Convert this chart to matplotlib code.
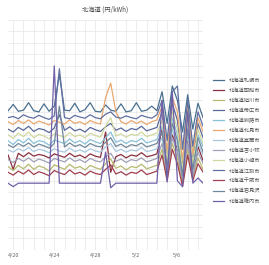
import matplotlib
matplotlib.use("Agg")
import matplotlib.pyplot as plt
import matplotlib.dates as mdates
import pandas as pd

plt.rcParams["font.family"] = ["Noto Sans CJK JP", "DejaVu Sans"]

TITLE = "北海道 (円/kWh)"
TIMES = pd.date_range("2024-04-19 12:00", periods=39, freq="12h")

LABELS = [
    "北海道札幌市", "北海道函館市", "北海道旭川市", "北海道帯広市",
    "北海道釧路市", "北海道北見市", "北海道室蘭市", "北海道苫小牧",
    "北海道小樽市", "北海道江別市", "北海道千歳市", "北海道岩見沢",
    "北海道稚内市",
]
COLORS = [
    "#4a7090", "#8a3040", "#b8b870", "#5a6898", "#88c0d8", "#e8a870",
    "#a8c8e0", "#a0a0b8", "#d0d8a0", "#6070a0", "#a04050", "#70889a",
    "#7060a8",
]

s1 = [24.2, 25.3, 24.1, 24.3, 25.6, 24.2, 24.0, 25.4, 24.1, 25.0, 30.5, 24.3, 24.2,
      25.5, 24.0, 24.4, 25.6, 24.1, 24.0, 25.2, 24.3, 24.1, 25.4, 24.0, 24.2, 25.6,
      24.1, 24.3, 25.0, 24.2, 27.5, 22.0, 28.5, 26.0, 20.5, 27.0, 21.0, 25.5, 23.0]
s2 = [16.5, 14.0, 16.8, 16.2, 16.9, 16.3, 16.6, 16.4, 16.0, 16.7, 16.4, 16.1, 16.8,
      16.2, 16.5, 16.0, 16.7, 16.3, 16.1, 20.5, 13.5, 16.2, 16.6, 16.0, 16.5, 16.3,
      16.9, 16.2, 16.4, 16.7, 21.0, 13.0, 20.0, 17.5, 12.0, 19.0, 13.0, 18.0, 15.5]
s3 = [14.5, 13.8, 14.7, 14.1, 14.9, 14.0, 14.6, 14.3, 13.7, 14.8, 14.4, 14.0, 14.9,
      14.2, 14.5, 13.9, 14.7, 14.3, 14.0, 15.0, 15.8, 14.2, 14.6, 13.9, 14.5, 14.3,
      14.9, 14.1, 14.4, 14.7, 17.5, 12.5, 18.5, 16.0, 11.5, 17.5, 12.5, 16.0, 14.0]
s4 = [21.0, 20.5, 21.3, 20.8, 21.5, 20.6, 21.1, 20.9, 20.4, 21.2, 23.5, 20.8, 21.4,
      20.7, 21.0, 20.5, 21.3, 20.9, 20.6, 21.4, 22.0, 20.8, 21.2, 20.6, 21.1, 20.9,
      21.5, 20.7, 21.0, 21.3, 24.0, 16.0, 25.5, 22.5, 14.5, 24.5, 15.5, 22.0, 19.5]
s5 = [19.0, 18.3, 19.2, 18.6, 19.4, 18.5, 19.0, 18.8, 18.2, 19.1, 18.8, 18.5, 19.3,
      18.6, 19.0, 18.4, 19.2, 18.8, 18.5, 19.5, 20.5, 18.7, 19.1, 18.5, 19.0, 18.8,
      19.4, 18.6, 18.9, 19.2, 21.5, 15.0, 23.0, 20.0, 13.5, 22.0, 14.5, 20.0, 18.0]
s6 = [22.3, 21.8, 22.5, 22.0, 22.6, 21.9, 22.4, 22.1, 21.7, 22.5, 22.2, 21.9, 22.6,
      22.0, 22.3, 21.8, 22.5, 22.1, 21.9, 26.5, 29.0, 24.0, 22.3, 21.9, 22.5, 22.0,
      22.4, 21.8, 22.3, 22.6, 25.0, 17.0, 26.5, 24.0, 15.5, 25.5, 16.5, 23.0, 20.5]
s7 = [17.4, 17.0, 17.6, 17.2, 17.8, 17.1, 17.5, 17.3, 16.9, 17.6, 17.2, 17.0, 17.7,
      17.1, 17.4, 17.0, 17.6, 17.2, 17.0, 17.9, 18.5, 17.1, 17.5, 17.0, 17.4, 17.2,
      17.8, 17.1, 17.3, 17.6, 19.5, 14.0, 21.0, 18.0, 12.5, 20.0, 13.5, 18.5, 16.5]
s8 = [15.7, 15.2, 15.9, 15.4, 16.0, 15.3, 15.8, 15.5, 15.1, 15.9, 15.6, 15.3, 16.0,
      15.4, 15.7, 15.2, 15.9, 15.5, 15.3, 16.2, 16.8, 15.4, 15.8, 15.2, 15.7, 15.5,
      16.0, 15.3, 15.6, 15.9, 18.5, 13.5, 19.5, 17.0, 12.5, 18.5, 13.0, 17.0, 15.0]
s9 = [20.0, 19.4, 20.3, 19.7, 20.5, 19.5, 20.1, 19.8, 19.3, 20.2, 19.9, 19.6, 20.4,
      19.7, 20.0, 19.5, 20.3, 19.9, 19.6, 21.5, 23.0, 19.8, 20.2, 19.6, 20.1, 19.9,
      20.5, 19.7, 20.0, 20.3, 22.5, 15.5, 24.0, 21.0, 14.0, 23.0, 15.0, 21.0, 18.5]
s10 = [23.0, 23.2, 22.8, 23.5, 23.1, 22.9, 23.4, 23.0, 22.7, 23.3, 31.5, 23.0, 22.8,
       23.4, 23.1, 22.9, 23.5, 23.0, 22.8, 23.6, 24.0, 23.1, 22.9, 23.3, 23.0, 22.8,
       23.4, 23.1, 22.9, 23.5, 26.0, 19.0, 27.5, 28.5, 17.5, 26.0, 18.0, 24.0, 21.5]
s11 = [13.5, 13.0, 13.7, 13.2, 13.9, 13.1, 13.6, 13.3, 12.9, 13.8, 13.4, 13.1, 13.9,
       13.2, 13.5, 13.0, 13.7, 13.3, 13.1, 14.0, 14.8, 13.2, 13.6, 13.0, 13.5, 13.3,
       13.9, 13.1, 13.4, 13.7, 16.5, 12.0, 17.5, 15.0, 11.0, 16.5, 12.0, 15.0, 13.5]
s12 = [18.3, 17.8, 18.5, 18.0, 18.6, 17.9, 18.4, 18.1, 17.7, 18.5, 25.0, 17.9, 18.6,
       18.0, 18.3, 17.8, 18.5, 18.1, 17.9, 18.7, 19.5, 18.0, 18.4, 17.8, 18.3, 18.1,
       18.6, 17.9, 18.2, 18.5, 20.5, 14.5, 22.0, 19.0, 13.0, 21.0, 14.0, 19.5, 17.0]
s13 = [11.6, 11.0, 11.6, 11.6, 11.6, 11.6, 11.6, 11.6, 11.6, 32.0, 11.6, 11.6, 11.6,
       11.6, 11.6, 11.6, 11.6, 11.6, 11.6, 17.0, 10.8, 11.6, 11.6, 11.6, 11.6, 11.6,
       11.6, 11.6, 11.6, 11.6, 26.0, 11.8, 27.5, 12.0, 11.0, 24.0, 11.6, 12.5, 11.6]

SERIES = [s1, s2, s3, s4, s5, s6, s7, s8, s9, s10, s11, s12, s13]


def main() -> None:
    fig = plt.figure(figsize=(2.69, 2.65), dpi=100)
    ax = fig.add_axes([0.03, 0.057, 0.725, 0.868])

    for values, label, color in zip(SERIES, LABELS, COLORS):
        ax.plot(TIMES, values, color=color, linewidth=0.9, label=label)

    ax.set_xlim(TIMES[0], TIMES[-1])
    ax.set_ylim(0, 40)
    ax.set_yticks(range(0, 41, 2))
    ax.set_yticklabels([])
    ax.xaxis.set_major_locator(mdates.DayLocator(bymonthday=[20, 24, 28, 2, 6]))
    ax.xaxis.set_minor_locator(mdates.DayLocator())
    ax.xaxis.set_major_formatter(mdates.DateFormatter("%-m/%-d"))
    ax.grid(True, which="both", color="#e6e6e6", linewidth=0.5)
    ax.tick_params(which="both", length=0, labelsize=4, colors="#666666", pad=2)
    for spine in ax.spines.values():
        spine.set_visible(False)

    ax.set_title(TITLE, fontsize=4.5, color="#444444", pad=6)
    legend = fig.legend(
        loc="upper left", bbox_to_anchor=(0.775, 0.725), frameon=False,
        fontsize=3.8, handlelength=2.0, handletextpad=1.0, labelspacing=0.95,
    )
    for text in legend.get_texts():
        text.set_color("#555555")
    fig.savefig("out.png", dpi=100)
    plt.close(fig)


if __name__ == "__main__":
    main()
